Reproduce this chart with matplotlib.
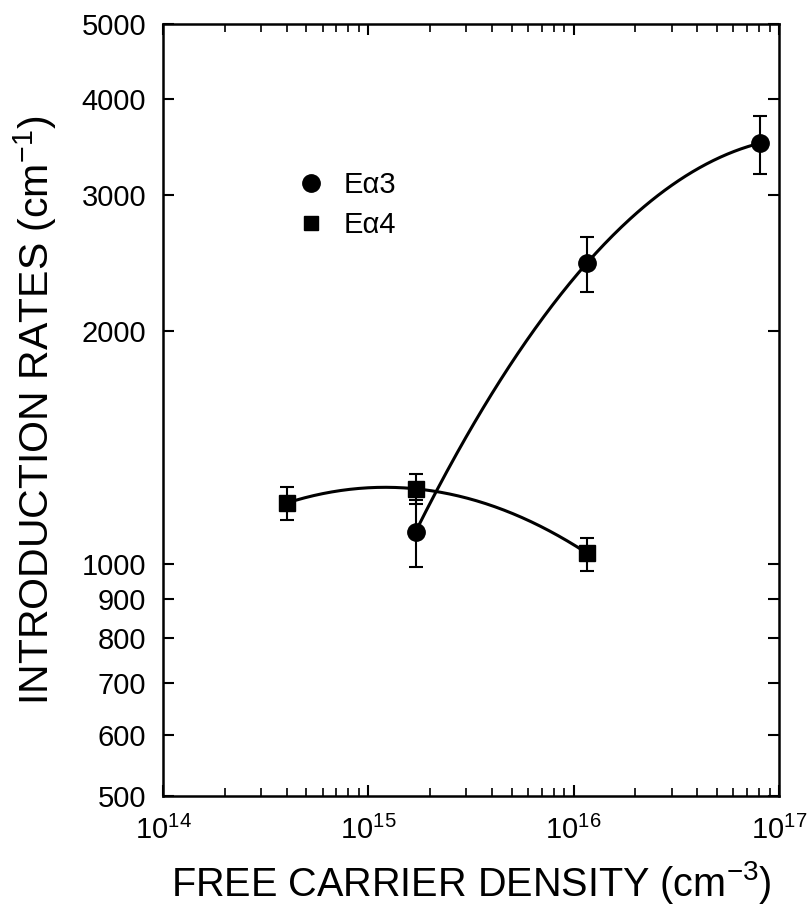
import numpy as np
import matplotlib.pyplot as plt
from matplotlib.ticker import FixedLocator, FixedFormatter, LogLocator, NullFormatter

plt.rcParams['font.family'] = ['Liberation Sans', 'DejaVu Sans']
plt.rcParams['mathtext.fontset'] = 'custom'
plt.rcParams['mathtext.rm'] = 'Liberation Sans'

# E alpha 3
x3 = [1.7e15, 1.16e16, 8.1e16]
y3 = [1100, 2450, 3505]
e3_lo = [110, 200, 310]
e3_hi = [110, 200, 300]

# E alpha 4
x4 = [4.0e14, 1.7e15, 1.16e16]
y4 = [1198, 1250, 1032]
e4_lo = [60, 55, 54]
e4_hi = [60, 57, 48]

yticks = [500, 600, 700, 800, 900, 1000, 2000, 3000, 4000, 5000]

fig = plt.figure(figsize=(8.08, 9.06), dpi=100)
ax = fig.add_axes([0.2017, 0.1214, 0.7623, 0.8521])
ax.set_xscale('log')
ax.set_yscale('log')

# smooth guide curves (quadratic through points in log-log space)
for xs, ys in [(x3, y3), (x4, y4)]:
    lx, ly = np.log10(xs), np.log10(ys)
    c = np.polyfit(lx, ly, 2)
    u = np.linspace(lx[0], lx[-1], 200)
    ax.plot(10**u, 10**np.polyval(c, u), color='black', lw=2.2, zorder=2)

ax.errorbar(x4, y4, yerr=[e4_lo, e4_hi], fmt='s', color='black', ms=11,
            capsize=5, elinewidth=1.5, capthick=1.5, zorder=3)
ax.errorbar(x3, y3, yerr=[e3_lo, e3_hi], fmt='o', color='black', ms=12.5,
            capsize=5, elinewidth=1.5, capthick=1.5, zorder=3)

h3, = ax.plot([], [], 'o', color='black', ms=12.5, label='E\u03b13')
h4, = ax.plot([], [], 's', color='black', ms=10.5, label='E\u03b14')
ax.legend(handles=[h3, h4], loc='center left', bbox_to_anchor=(0.198, 0.7655),
          frameon=False, fontsize=21, handletextpad=0.6, labelspacing=0.4,
          handlelength=1.0, borderaxespad=0)

ax.set_xlim(1e14, 1e17)
ax.set_ylim(500, 5000)
ax.xaxis.set_major_locator(FixedLocator([1e14, 1e15, 1e16, 1e17]))
ax.xaxis.set_major_formatter(FixedFormatter([r'$\mathregular{10^{14}}$', r'$\mathregular{10^{15}}$',
                                             r'$\mathregular{10^{16}}$', r'$\mathregular{10^{17}}$']))
ax.xaxis.set_minor_locator(LogLocator(base=10, subs=np.arange(2, 10)))
ax.xaxis.set_minor_formatter(NullFormatter())
ax.yaxis.set_major_locator(FixedLocator(yticks))
ax.yaxis.set_major_formatter(FixedFormatter([str(v) for v in yticks]))
ax.yaxis.set_minor_locator(FixedLocator([]))

ax.tick_params(which='major', direction='in', length=8, width=1.5,
               top=True, right=True, labelsize=21)
ax.tick_params(axis='y', pad=12)
ax.tick_params(axis='x', pad=14)
ax.tick_params(which='minor', direction='in', length=5.5, width=1.2, top=True, right=True)
for s in ax.spines.values():
    s.set_linewidth(1.8)

ax.set_xlabel('FREE CARRIER DENSITY (cm$^{\\mathregular{-3}}$)', fontsize=28.5, labelpad=10)
ax.set_ylabel('INTRODUCTION RATES (cm$^{\\mathregular{-1}}$)', fontsize=29.5, labelpad=16)

fig.savefig('out.png', dpi=100)
